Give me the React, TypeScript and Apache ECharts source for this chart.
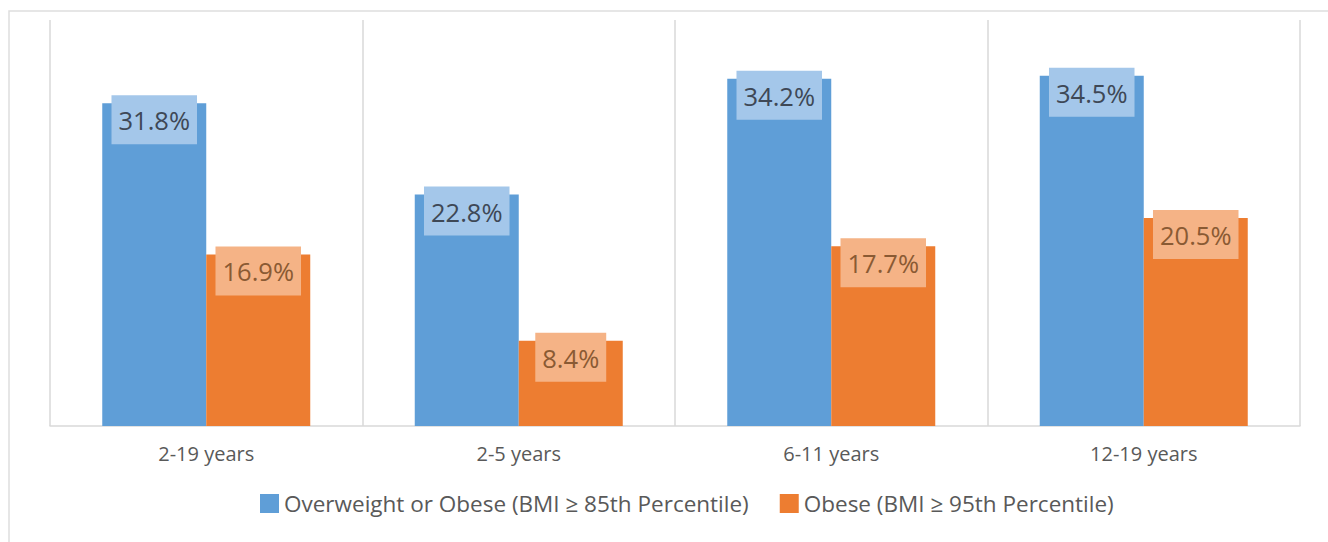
import React, { useEffect, useRef } from "react";
import * as echarts from "echarts";

const categories = ["2-19 years", "2-5 years", "6-11 years", "12-19 years"];
const overweightValues = [31.8, 22.8, 34.2, 34.5];
const obeseValues = [16.9, 8.4, 17.7, 20.5];
const seriesNames = [
  "Overweight or Obese (BMI \u2265 85th Percentile)",
  "Obese (BMI \u2265 95th Percentile)",
];

const FONT = "'Open Sans', sans-serif";

function makeLabel(bg: string, fg: string) {
  return {
    show: true,
    position: "top",
    distance: -41,
    formatter: (p: any) => p.value.toFixed(1) + "%",
    fontFamily: FONT,
    fontSize: 25.5,
    lineHeight: 28,
    color: fg,
    backgroundColor: bg,
    padding: [11, 7, 10, 7],
  };
}

export default function App() {
  const ref = useRef<HTMLDivElement>(null);
  useEffect(() => {
    if (!ref.current) return;
    const chart = echarts.init(ref.current, null, { renderer: "svg" });
    chart.setOption({
      animation: false,
      backgroundColor: "#ffffff",
      graphic: [
        {
          type: "rect",
          shape: { x: 9, y: 11, width: 1330, height: 540 },
          style: { fill: "none", stroke: "#DEDEDE", lineWidth: 1.5 },
          silent: true,
        },
      ],
      grid: { left: 50, right: 28, top: 20, bottom: 116 },
      legend: {
        bottom: 22,
        left: 255,
        itemWidth: 19,
        itemHeight: 19,
        itemGap: 31,
        icon: "rect",
        textStyle: { fontFamily: FONT, fontSize: 22.5, color: "#595959" },
        data: seriesNames,
      },
      xAxis: {
        type: "category",
        data: categories,
        axisLine: { lineStyle: { color: "#D9D9D9", width: 1.5 } },
        axisTick: { show: false },
        splitLine: { show: true, lineStyle: { color: "#D9D9D9", width: 1.5 } },
        axisLabel: { fontFamily: FONT, fontSize: 20, color: "#595959", margin: 17 },
      },
      yAxis: {
        type: "value",
        min: 0,
        max: 40,
        show: false,
        splitLine: { show: false },
      },
      series: [
        {
          name: seriesNames[0],
          type: "bar",
          data: overweightValues,
          barWidth: 104,
          barGap: "0%",
          itemStyle: { color: "#5F9ED7" },
          label: makeLabel("#A4C7EA", "#3E4856"),
        },
        {
          name: seriesNames[1],
          type: "bar",
          data: obeseValues,
          barWidth: 104,
          barGap: "0%",
          itemStyle: { color: "#ED7D31" },
          label: makeLabel("#F5B386", "#8A5A33"),
        },
      ],
    });
    return () => chart.dispose();
  }, []);
  return (
    <div
      ref={ref}
      style={{ position: "fixed", left: 0, top: 0, width: 1328, height: 542 }}
    />
  );
}
